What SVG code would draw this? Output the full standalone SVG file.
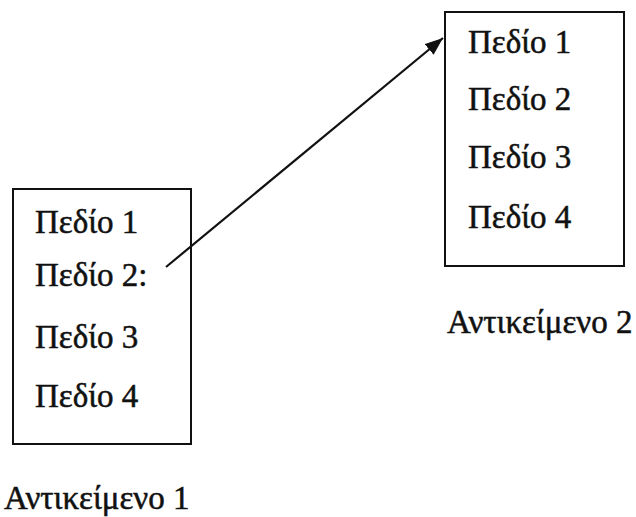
<svg xmlns="http://www.w3.org/2000/svg" width="636" height="517" viewBox="0 0 636 517">
<style>
text{font-family:"Liberation Serif","Times New Roman",serif;font-size:33px;fill:#111;stroke:#111;stroke-width:0.5}
.box{fill:none;stroke:#111;stroke-width:2}
.conn{stroke:#111;stroke-width:2.2;fill:none}
</style>
<defs>
<marker id="ah" markerUnits="userSpaceOnUse" markerWidth="20" markerHeight="16" refX="18" refY="7" orient="auto">
<path d="M0,0 L18,7 L0,14 Z" fill="#111"/>
</marker>
</defs>
<rect width="636" height="517" fill="#fff"/>
<g id="obj1">
<rect class="box" x="13" y="189" width="178" height="255"/>
<text x="35" y="233">Πεδίο 1</text>
<text x="35" y="286">Πεδίο 2:</text>
<text x="35" y="348">Πεδίο 3</text>
<text x="35" y="407">Πεδίο 4</text>
<text x="4" y="509">Αντικείμενο 1</text>
</g>
<g id="obj2">
<rect class="box" x="445" y="12" width="179" height="254"/>
<text x="468" y="53">Πεδίο 1</text>
<text x="468" y="110">Πεδίο 2</text>
<text x="468" y="168">Πεδίο 3</text>
<text x="468" y="228">Πεδίο 4</text>
<text x="447" y="333">Αντικείμενο 2</text>
</g>
<g id="connectors">
<line class="conn" x1="166" y1="267" x2="443" y2="38" marker-end="url(#ah)"/>
</g>
</svg>
